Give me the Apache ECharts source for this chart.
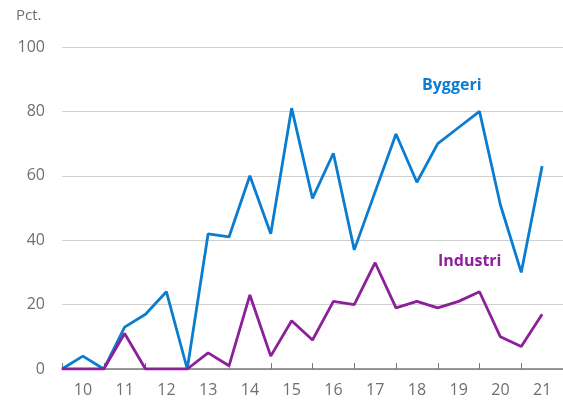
<!DOCTYPE html>
<html lang="da">
<head>
    <meta charset="UTF-8">
    <title>Byggeri og industri</title>
    <script src="https://cdn.jsdelivr.net/npm/echarts@6/dist/echarts.min.js"></script>
    <style>
        html, body { margin: 0; padding: 0; background: #fff; }
        #chart { width: 563px; height: 405px; }
    </style>
</head>
<body>
    <div id="chart"></div>
    <script>
        // halvårlige observationer, label midt i hvert år
        let categories = ['', '10', '', '11', '', '12', '', '13', '', '14', '', '15', '', '16', '', '17', '', '18', '', '19', '', '20', '', '21', ''];
        let byggeri = [0, 4, 0, 13, 17, 24, 0, 42, 41, 60, 42, 81, 53, 67, 37, 55, 73, 58, 70, 75, 80, 51, 30, 63];
        let industri = [0, 0, 0, 11, 0, 0, 0, 5, 1, 23, 4, 15, 9, 21, 20, 33, 19, 21, 19, 21, 24, 10, 7, 17];
        let yTicks = [0, 20, 40, 60, 80, 100];

        let blue = '#0a7dd0';
        let purple = '#8c1f9a';
        let font = '"Open Sans", "Noto Sans", sans-serif';

        let myEchart = echarts.init(document.getElementById('chart'));
        let option = {
            animation: false,
            grid: {
                left: 62,
                right: -4,
                top: 47,
                bottom: 36
            },
            graphic: [
                { type: 'text', left: 16, top: 8, style: { text: 'Pct.', fill: '#6f6f6f', font: '15px ' + font } },
                { type: 'text', left: 422, top: 77, style: { text: 'Byggeri', fill: blue, font: 'bold 16px ' + font } },
                { type: 'text', left: 438, top: 253, style: { text: 'Industri', fill: purple, font: 'bold 16px ' + font } }
            ],
            xAxis: {
                type: 'category',
                boundaryGap: false,
                data: categories,
                axisLine: { lineStyle: { color: '#7a7a7a', width: 1.5 } },
                axisTick: {
                    inside: true,
                    length: 6,
                    interval: function (i) { return i % 2 === 0; },
                    lineStyle: { color: '#7a7a7a' }
                },
                axisLabel: {
                    interval: function (i) { return i % 2 === 1; },
                    color: '#6f6f6f',
                    fontSize: 16,
                    fontFamily: font,
                    margin: 13
                },
                splitLine: { show: false }
            },
            yAxis: {
                type: 'value',
                min: yTicks[0],
                max: yTicks[yTicks.length - 1],
                interval: 20,
                axisLine: { show: false },
                axisTick: { show: false },
                axisLabel: {
                    color: '#6f6f6f',
                    fontSize: 16,
                    fontFamily: font,
                    margin: 17
                },
                splitLine: { lineStyle: { color: '#cfcfcf', width: 1 } }
            },
            series: [
                {
                    name: 'Byggeri',
                    type: 'line',
                    data: byggeri,
                    symbol: 'none',
                    lineStyle: { color: blue, width: 2.8 },
                    z: 3
                },
                {
                    name: 'Industri',
                    type: 'line',
                    data: industri,
                    symbol: 'none',
                    lineStyle: { color: purple, width: 2.8 },
                    z: 4
                }
            ]
        };
        myEchart.setOption(option);
    </script>
</body>
</html>
